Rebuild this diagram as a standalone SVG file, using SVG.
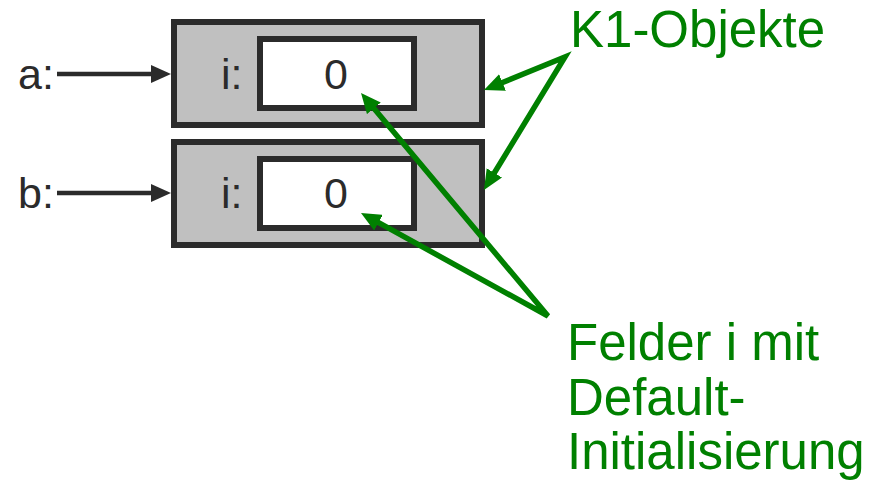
<svg xmlns="http://www.w3.org/2000/svg" width="884" height="481" viewBox="0 0 884 481">
<style>
.obj{fill:#c0c0c0;stroke:#2b2b2b;stroke-width:6}
.fld{fill:#fff;stroke:#2b2b2b;stroke-width:6}
.t{font-family:"Liberation Sans",Arial,sans-serif;font-size:43px;fill:#2b2b2b}
.g{font-family:"Liberation Sans",Arial,sans-serif;font-size:51px;fill:#008000}
.ref{stroke:#2b2b2b;stroke-width:4.5;fill:none}
.ptr{stroke:#008000;stroke-width:5.5;fill:none;stroke-linejoin:miter}
</style>
<defs>
<marker id="ah" markerUnits="userSpaceOnUse" viewBox="0 0 20 18" markerWidth="20" markerHeight="18" refX="4" refY="9" orient="auto"><path d="M0,0 L20,9 L0,18 z" fill="#2b2b2b"/></marker>
<marker id="gh" markerUnits="userSpaceOnUse" viewBox="0 0 20 18" markerWidth="20" markerHeight="18" refX="4" refY="9" orient="auto-start-reverse"><path d="M0,0 L20,9 L0,18 z" fill="#008000"/></marker>
</defs>
<g id="objA">
<rect class="obj" x="174" y="22" width="308" height="103"/>
<text class="t" x="221" y="89">i:</text>
<rect class="fld" x="260" y="39" width="154" height="69"/>
<text class="t" x="336" y="89" text-anchor="middle">0</text>
</g>
<g id="objB">
<rect class="obj" x="174" y="142" width="308" height="103"/>
<text class="t" x="221" y="208">i:</text>
<rect class="fld" x="260" y="159" width="154" height="69"/>
<text class="t" x="336" y="208" text-anchor="middle">0</text>
</g>
<g id="varA"><text class="t" x="18" y="89">a:</text></g>
<g id="varB"><text class="t" x="18" y="208">b:</text></g>
<g id="labelK1"><text class="g" x="570" y="47">K1-Objekte</text></g>
<g id="labelFelder"><text class="g" x="567" y="360">Felder i mit</text><text class="g" x="567" y="415">Default-</text><text class="g" x="567" y="469">Initialisierung</text></g>
<g id="connectors">
<line class="ref" x1="57" y1="74" x2="155" y2="74" marker-end="url(#ah)"/>
<line class="ref" x1="57" y1="193" x2="155" y2="193" marker-end="url(#ah)"/>
<path class="ptr" d="M498.8,84 L565,57 L492.3,176.3" marker-start="url(#gh)" marker-end="url(#gh)"/>
<path class="ptr" d="M371.3,105.3 L548,316 L375,220.7" marker-start="url(#gh)" marker-end="url(#gh)"/>
</g>
</svg>
